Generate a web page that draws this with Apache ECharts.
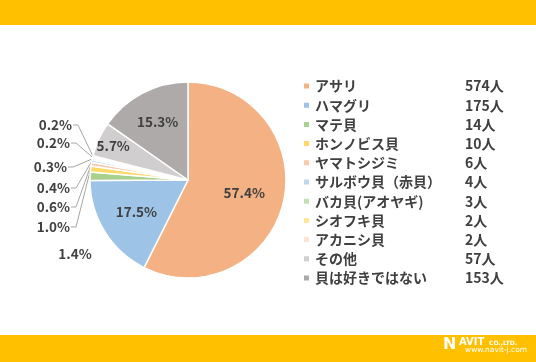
<!DOCTYPE html>
<html><head><meta charset="utf-8">
<script src="https://cdn.jsdelivr.net/npm/echarts@6/dist/echarts.min.js"></script>
<style>html,body{margin:0;padding:0;background:#fff}#c{width:536px;height:362px}</style>
</head><body><div id="c"></div>
<script>
const categories = ['アサリ','ハマグリ','マテ貝','ホンノビス貝','ヤマトシジミ','サルボウ貝（赤貝）','バカ貝(アオヤギ)','シオフキ貝','アカニシ貝','その他','貝は好きではない'];
const counts = [574,175,14,10,6,4,3,2,2,57,153];
const valueLabels = ['574人','175人','14人','10人','6人','4人','3人','2人','2人','57人','153人'];
const colors = ['#F4B183','#9DC3E6','#A9D18E','#FFD966','#F8CBAD','#BDD7EE','#C5E0B4','#FFE699','#FBE5D6','#D0CECE','#AEAAAA'];

const CX = 188, CY = 180, R = 98;
const total = counts.reduce((a,b)=>a+b,0);
const mids = [];
(function(){ let c = 0; counts.forEach(v => { mids.push((c + v/2)/total*Math.PI*2); c += v; }); })();
const insideFrac = {0:0.59, 1:0.62, 9:0.84, 10:0.67};
const outsidePos = {2:[75,254,'center'], 3:[70,227,'right'], 4:[70,207,'right'], 5:[70,188,'right'], 6:[67,167,'right'], 7:[70,143,'right'], 8:[72,125,'right']};

const font = '"Noto Sans CJK JP","Noto Sans",sans-serif';
const chart = echarts.init(document.getElementById('c'));
const valueMap = {};
categories.forEach((n,i)=>valueMap[n]=valueLabels[i]);

chart.setOption({
  animation: false,
  color: colors,
  graphic: [
    {type:'rect', shape:{x:0,y:0,width:536,height:25}, style:{fill:'#FFC000'}},
    {type:'rect', shape:{x:0,y:335,width:536,height:27}, style:{fill:'#FFC000'}},
    {type:'text', x:443, y:337, style:{text:'N', fill:'#fff', font:'bold 16px "DejaVu Sans"'}},
    {type:'text', x:459, y:337, style:{text:'AVIT', fill:'#fff', font:'bold 10px "DejaVu Sans"'}},
    {type:'text', x:489, y:340, style:{text:'CO.,LTD.', fill:'#fff', font:'bold 6px "DejaVu Sans"'}},
    {type:'text', x:465, y:346, style:{text:'www.navit-j.com', fill:'#fff', font:'7.5px "DejaVu Sans"'}}
  ],
  legend: {
    orient:'vertical', left:302, top:79, padding:0, icon:'rect', itemWidth:7, itemHeight:7, itemGap:5.2,
    selectedMode:false, data: categories,
    formatter: n => '{n|' + n + '}{v|' + valueMap[n] + '}',
    textStyle: { fontFamily: font, fontSize:14, fontWeight:'bold', color:'#404040',
      rich: { n:{width:150, fontSize:14, fontWeight:'bold', color:'#404040', fontFamily:font},
              v:{fontSize:14, fontWeight:'bold', color:'#404040', fontFamily:font} } }
  },
  series: [{
    type:'pie', center:[CX,CY], radius:R, startAngle:90, clockwise:true,
    avoidLabelOverlap:false, silent:true,
    itemStyle:{borderColor:'#fff', borderWidth:1.5},
    label:{ show:true, position:'inside', fontFamily:font, fontSize:13.5, fontWeight:'bold', color:'#404040',
      formatter: p => p.percent.toFixed(1) + '%' },
    labelLine:{ show:true, length:5, length2:5, lineStyle:{color:'#A6A6A6', width:1} },
    data: categories.map((n,i)=>{
      const d = {name:n, value:counts[i]};
      if (outsidePos[i]) { d.label = {position:'outside'}; d.labelLine = {show: i !== 2}; }
      return d;
    }),
    labelLayout: function(p){
      const i = p.dataIndex, a = mids[i];
      if (insideFrac[i] !== undefined) {
        const r = insideFrac[i]*R;
        return {x: CX + r*Math.sin(a), y: CY - r*Math.cos(a), align:'center', verticalAlign:'middle'};
      }
      const o = outsidePos[i];
      if (!o) return {};
      const ex = CX + R*Math.sin(a), ey = CY - R*Math.cos(a);
      return {x:o[0], y:o[1], align:o[2], verticalAlign:'middle',
        labelLinePoints: [[ex,ey],[o[0]+6,o[1]],[o[0]+1,o[1]]]};
    }
  }]
});
</script></body></html>
